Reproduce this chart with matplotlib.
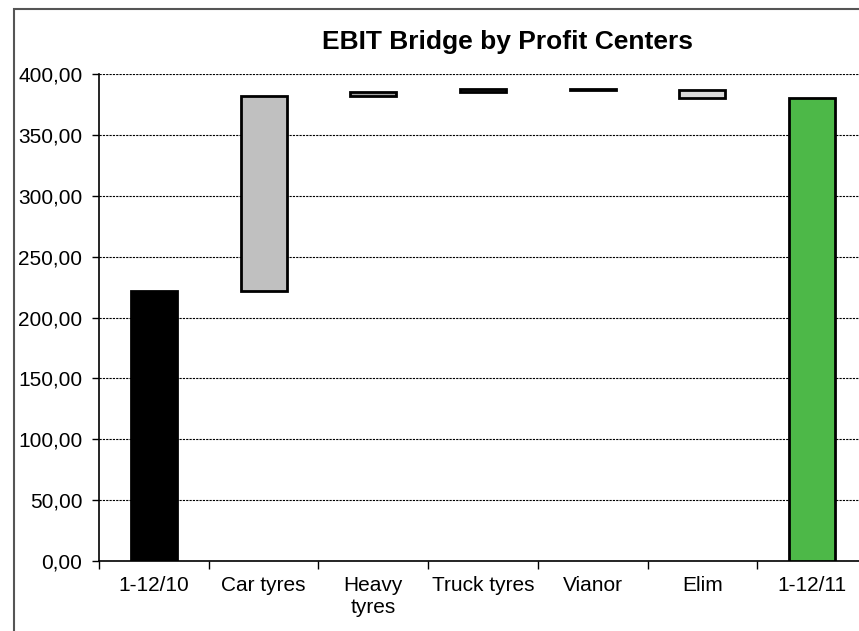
import matplotlib.pyplot as plt
import matplotlib.patches as patches
import numpy as np
from matplotlib.ticker import FuncFormatter, MultipleLocator

plt.rcParams['font.family'] = ['Liberation Sans', 'DejaVu Sans']

categories = ["1-12/10", "Car tyres", "Heavy\ntyres", "Truck tyres", "Vianor", "Elim", "1-12/11"]
start_value = 222.0
changes = [160.0, 3.0, 2.5, -1.0, -6.5]
end_value = 380.0
bar_colors = ["#000000", "#c0c0c0", "#a6a6a6", "#595959", "#000000", "#d9d9d9", "#4db848"]

# waterfall bottoms / heights
cum = start_value + np.cumsum([0.0] + changes)
bottoms = [0.0] + [min(cum[i], cum[i + 1]) for i in range(len(changes))] + [0.0]
heights = [start_value] + [abs(c) for c in changes] + [end_value]

fig = plt.figure(figsize=(8.59, 6.31), dpi=100)
fig.patches.append(patches.Rectangle((14 / 859, -0.1), 1.2, (631 - 9) / 631 + 0.1,
                                     transform=fig.transFigure, fill=False,
                                     edgecolor="#555555", linewidth=1.5))

ax = fig.add_axes([99 / 859, 70 / 631, 768 / 859, 487 / 631])
x = np.arange(len(categories))
ax.bar(x, heights, bottom=bottoms, width=0.42, color=bar_colors,
       edgecolor="black", linewidth=2.0, zorder=3)

ax.set_xlim(-0.5, len(categories) - 0.5)
ax.set_ylim(0, 400)
ax.yaxis.set_major_locator(MultipleLocator(50))
ax.yaxis.set_major_formatter(FuncFormatter(lambda v, p: f"{v:.2f}".replace(".", ",")))
ax.grid(axis="y", color="black", linestyle=(0, (2, 1)), linewidth=0.8, zorder=0)

ax.set_xticks(np.arange(len(categories) + 1) - 0.5)
ax.set_xticklabels([])
ax.set_xticks(x, minor=True)
ax.set_xticklabels(categories, minor=True, fontsize=15)
ax.tick_params(axis="x", which="minor", length=0, pad=11)
ax.tick_params(axis="x", which="major", length=6, width=1)
ax.tick_params(axis="y", labelsize=15, length=5, width=1, pad=7)

for s in ["top", "right"]:
    ax.spines[s].set_visible(False)
ax.spines["left"].set_linewidth(1.2)
ax.spines["bottom"].set_linewidth(1.2)

fig.text(508 / 859, 1 - 42 / 631, "EBIT Bridge by Profit Centers", ha="center", va="center",
         fontsize=19, fontweight="bold")

fig.savefig("out.png", dpi=100)
